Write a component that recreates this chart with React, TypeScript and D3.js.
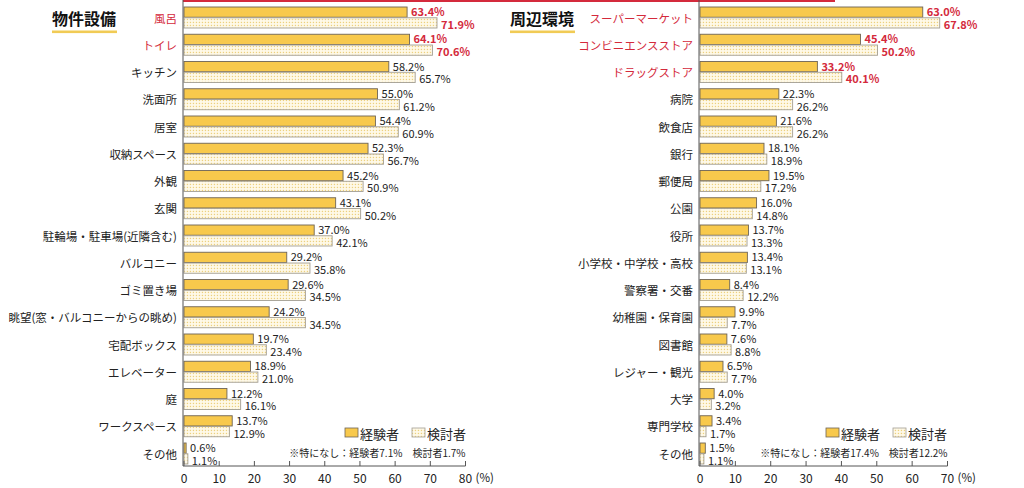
import React from "react";
import * as d3 from "d3";

// ---- data ----
const leftCategories = [
  "風呂", "トイレ", "キッチン", "洗面所", "居室", "収納スペース", "外観", "玄関",
  "駐輪場・駐車場(近隣含む)", "バルコニー", "ゴミ置き場", "眺望(窓・バルコニーからの眺め)",
  "宅配ボックス", "エレベーター", "庭", "ワークスペース", "その他",
];
const leftExperienced = [63.4, 64.1, 58.2, 55.0, 54.4, 52.3, 45.2, 43.1, 37.0, 29.2, 29.6, 24.2, 19.7, 18.9, 12.2, 13.7, 0.6];
const leftConsidering = [71.9, 70.6, 65.7, 61.2, 60.9, 56.7, 50.9, 50.2, 42.1, 35.8, 34.5, 34.5, 23.4, 21.0, 16.1, 12.9, 1.1];
const leftHighlight = 2;
const leftTicks = [0, 10, 20, 30, 40, 50, 60, 70, 80];

const rightCategories = [
  "スーパーマーケット", "コンビニエンスストア", "ドラッグストア", "病院", "飲食店", "銀行",
  "郵便局", "公園", "役所", "小学校・中学校・高校", "警察署・交番", "幼稚園・保育園",
  "図書館", "レジャー・観光", "大学", "専門学校", "その他",
];
const rightExperienced = [63.0, 45.4, 33.2, 22.3, 21.6, 18.1, 19.5, 16.0, 13.7, 13.4, 8.4, 9.9, 7.6, 6.5, 4.0, 3.4, 1.5];
const rightConsidering = [67.8, 50.2, 40.1, 26.2, 26.2, 18.9, 17.2, 14.8, 13.3, 13.1, 12.2, 7.7, 8.8, 7.7, 3.2, 1.7, 1.1];
const rightHighlight = 3;
const rightTicks = [0, 10, 20, 30, 40, 50, 60, 70];

const seriesNames = ["経験者", "検討者"];
const leftTitle = "物件設備";
const rightTitle = "周辺環境";
const leftNote = "※特になし：経験者7.1%　検討者1.7%";
const rightNote = "※特になし：経験者17.4%　検討者12.2%";

const FONT = "'Noto Sans CJK JP', 'Noto Sans', sans-serif";
const RED = "#d42a3c";
const YELLOW = "#f8c94c";
const TEXT = "#222";
const AXIS = "#555";

type PanelProps = {
  categories: string[];
  exp: number[];
  con: number[];
  highlight: number;
  ticks: number[];
  x0: number;
  x1: number;
  labelRight: number;
  title: string;
  titleX: number;
  note: string;
  legendX: number;
};

function Panel(p: PanelProps) {
  const maxV = p.ticks[p.ticks.length - 1];
  const x = d3.scaleLinear().domain([0, maxV]).range([p.x0, p.x1]);
  const axisY = 466;
  const y = d3
    .scaleBand<string>()
    .domain(p.categories)
    .range([3.875, 467.125])
    .paddingInner(0.2294)
    .paddingOuter(0.1147);
  const sub = d3.scaleBand<string>().domain(["exp", "con"]).range([0, y.bandwidth()]).paddingInner(0.05);
  const fmt = (v: number) => v.toFixed(1) + "%";

  return (
    <g>
      {/* title */}
      <text x={p.titleX} y={18} fontSize={16} fontWeight={700} fill="#111" dominantBaseline="central" fontFamily={FONT}>
        {p.title}
      </text>
      <rect x={p.titleX} y={30.5} width={65} height={2.6} fill="#f1cb55" />

      {/* bars */}
      {p.categories.map((c, i) => {
        const by = y(c)!;
        const hi = i < p.highlight;
        const e = p.exp[i];
        const n = p.con[i];
        const ey = by + sub("exp")!;
        const ny = by + sub("con")!;
        const bh = sub.bandwidth();
        return (
          <g key={c}>
            <text
              x={p.labelRight}
              y={by + y.bandwidth() / 2}
              fontSize={11.5}
              textAnchor="end"
              dominantBaseline="central"
              fill={hi ? RED : TEXT}
              fontFamily={FONT}
            >
              {c}
            </text>
            <rect x={x(0)} y={ey} width={x(e) - x(0)} height={bh} fill={YELLOW} stroke="#6e6455" strokeWidth={0.9} />
            <rect x={x(0)} y={ny} width={x(n) - x(0)} height={bh} fill="url(#dots)" stroke="#a39e93" strokeWidth={0.9} />
            <text
              x={x(e) + 4}
              y={ey + bh / 2 - 1}
              fontSize={11}
              dominantBaseline="central"
              fill={hi ? RED : TEXT}
              fontWeight={hi ? 700 : 400}
              fontFamily={FONT}
            >
              {fmt(e)}
            </text>
            <text
              x={x(n) + 4}
              y={ny + bh / 2 + 1}
              fontSize={11}
              dominantBaseline="central"
              fill={hi ? RED : TEXT}
              fontWeight={hi ? 700 : 400}
              fontFamily={FONT}
            >
              {fmt(n)}
            </text>
          </g>
        );
      })}

      {/* axes */}
      <line x1={p.x0 - 1} x2={p.x0 - 1} y1={0} y2={axisY} stroke={AXIS} strokeWidth={1} />
      <line x1={p.x0 - 1} x2={x(maxV)} y1={axisY} y2={axisY} stroke={AXIS} strokeWidth={1} />
      {p.ticks.map((t) => (
        <g key={t}>
          <line x1={x(t)} x2={x(t)} y1={axisY} y2={axisY - 5} stroke={AXIS} strokeWidth={1} />
          <text x={x(t)} y={477} fontSize={12} textAnchor="middle" dominantBaseline="central" fill={TEXT} fontFamily={FONT}>
            {t}
          </text>
        </g>
      ))}
      <text x={x(maxV) + 10} y={477} fontSize={11.5} dominantBaseline="central" fill={TEXT} fontFamily={FONT}>
        (%)
      </text>

      {/* legend */}
      <rect x={p.legendX} y={428} width={13} height={9} fill={YELLOW} stroke="#6e6455" strokeWidth={0.8} />
      <text x={p.legendX + 15} y={433} fontSize={13} dominantBaseline="central" fill={TEXT} fontFamily={FONT}>
        {seriesNames[0]}
      </text>
      <rect x={p.legendX + 67} y={428} width={13} height={9} fill="url(#dots)" stroke="#a39e93" strokeWidth={0.8} />
      <text x={p.legendX + 82} y={433} fontSize={13} dominantBaseline="central" fill={TEXT} fontFamily={FONT}>
        {seriesNames[1]}
      </text>
      <text x={x(maxV)} y={452} fontSize={10} textAnchor="end" dominantBaseline="central" fill={TEXT} fontFamily={FONT}>
        {p.note}
      </text>
    </g>
  );
}

export default function App() {
  return (
    <svg
      width={1024}
      height={488}
      viewBox="0 0 1024 488"
      style={{ position: "absolute", left: 0, top: 0, background: "#fff" }}
      fontFamily={FONT}
    >
      <defs>
        <pattern id="dots" width={3} height={3} patternUnits="userSpaceOnUse">
          <rect width={3} height={3} fill="#fffaea" />
          <rect x={0.8} y={0.8} width={1.3} height={1.3} fill="#ecd17e" />
        </pattern>
      </defs>
      <rect width={1024} height={488} fill="#fff" />
      <rect x={183} y={0} width={652} height={2} fill={RED} />
      <Panel
        categories={leftCategories}
        exp={leftExperienced}
        con={leftConsidering}
        highlight={leftHighlight}
        ticks={leftTicks}
        x0={184}
        x1={465.5}
        labelRight={177}
        title={leftTitle}
        titleX={52}
        note={leftNote}
        legendX={345}
      />
      <Panel
        categories={rightCategories}
        exp={rightExperienced}
        con={rightConsidering}
        highlight={rightHighlight}
        ticks={rightTicks}
        x0={700}
        x1={947.5}
        labelRight={693}
        title={rightTitle}
        titleX={510}
        note={rightNote}
        legendX={826}
      />
    </svg>
  );
}
